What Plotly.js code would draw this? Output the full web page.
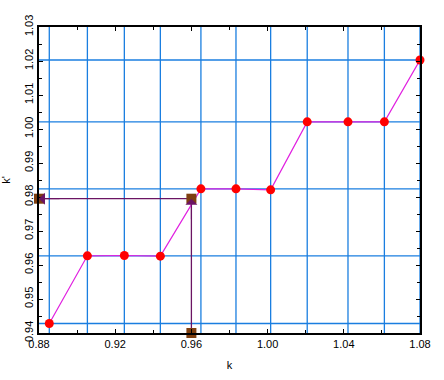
<!DOCTYPE html>
<html>
<head>
<meta charset="utf-8">
<script src="https://cdn.plot.ly/plotly-3.0.1.min.js"></script>
<style>html,body{margin:0;padding:0;background:#fff;}#chart{width:444px;height:380px;}</style>
</head>
<body>
<div id="chart"></div>
<script>
// data
const kVals = [0.8854, 0.9054, 0.9248, 0.9437, 0.9650, 0.9834, 1.0016, 1.0208, 1.0422, 1.0613, 1.0800];
const kPrime = [0.9428, 0.9627, 0.9628, 0.9626, 0.9824, 0.9824, 0.9821, 1.0021, 1.0021, 1.0021, 1.0203];
const levels = [0.9428, 0.9627, 0.9824, 1.0021, 1.0203];
const markK = 0.96;
const markKPrime = 0.9795;
const xRange = [0.88, 1.08];
const yRange = [0.94, 1.03];
const xTickVals = [0.88, 0.92, 0.96, 1.00, 1.04, 1.08];
const xTickText = ['0.88', '0.92', '0.96', '1.00', '1.04', '1.08'];
const yTickVals = [0.94, 0.95, 0.96, 0.97, 0.98, 0.99, 1.00, 1.01, 1.02, 1.03];
const yTickText = ['0.94', '0.95', '0.96', '0.97', '0.98', '0.99', '1.00', '1.01', '1.02', '1.03'];

const gridColor = '#1a7ee0';
const shapes = [];
kVals.forEach(function (k) {
  shapes.push({type: 'line', xref: 'x', yref: 'paper', x0: k, x1: k, y0: 0, y1: 1,
    line: {color: gridColor, width: 1.3}, layer: 'below'});
});
levels.forEach(function (v) {
  shapes.push({type: 'line', xref: 'paper', yref: 'y', x0: 0, x1: 1, y0: v, y1: v,
    line: {color: gridColor, width: 1.3}, layer: 'below'});
});

const traces = [
  {x: [xRange[0], markK, markK], y: [markKPrime, markKPrime, yRange[0]], mode: 'lines',
   line: {color: '#6b1463', width: 1.3}, hoverinfo: 'skip', cliponaxis: false},
  {x: kVals, y: kPrime, mode: 'lines+markers',
   line: {color: '#e020e0', width: 1.2},
   marker: {color: '#ff0000', size: 9, symbol: 'circle'}, cliponaxis: false},
  {x: [xRange[0], markK, markK], y: [markKPrime, markKPrime, yRange[0]], mode: 'markers',
   marker: {color: '#7f3f0f', size: 10, symbol: 'square'}, cliponaxis: false}
];

const fontFam = '"Liberation Sans", Arial, sans-serif';
const layout = {
  width: 444, height: 380,
  margin: {l: 39, r: 24, t: 27, b: 47},
  paper_bgcolor: '#ffffff', plot_bgcolor: '#ffffff',
  showlegend: false,
  font: {family: fontFam, size: 11, color: '#000'},
  xaxis: {
    range: xRange, showgrid: false, zeroline: false,
    tickvals: xTickVals, ticktext: xTickText,
    ticks: 'inside', ticklen: 4, tickcolor: '#000', mirror: 'ticks',
    minor: {ticks: 'inside', dtick: 0.02, tick0: 0.88, ticklen: 3, tickcolor: '#000'},
    showline: true, linecolor: '#000', linewidth: 2,
    tickfont: {family: fontFam, size: 11},
    title: {text: 'k', font: {family: fontFam, size: 11}, standoff: 12}
  },
  yaxis: {
    range: yRange, showgrid: false, zeroline: false,
    tickvals: yTickVals, ticktext: yTickText, tickangle: -90,
    ticks: 'inside', ticklen: 4, tickcolor: '#000', mirror: 'ticks',
    minor: {ticks: 'inside', dtick: 0.005, tick0: 0.94, ticklen: 3, tickcolor: '#000'},
    showline: true, linecolor: '#000', linewidth: 2,
    tickfont: {family: fontFam, size: 11},
    title: {text: "k'", font: {family: fontFam, size: 11}, standoff: 12}
  },
  shapes: shapes,
  annotations: [
    {x: xRange[0], y: markKPrime, xref: 'x', yref: 'y', ax: 22, ay: 0, showarrow: true,
     arrowhead: 1, arrowsize: 2, arrowwidth: 1, arrowcolor: '#6b1463', text: ''},
    {x: markK, y: markKPrime, xref: 'x', yref: 'y', ax: 0, ay: 22, showarrow: true,
     arrowhead: 1, arrowsize: 2, arrowwidth: 1, arrowcolor: '#6b1463', text: ''}
  ]
};

Plotly.newPlot('chart', traces, layout, {staticPlot: true, displayModeBar: false});
</script>
</body>
</html>
